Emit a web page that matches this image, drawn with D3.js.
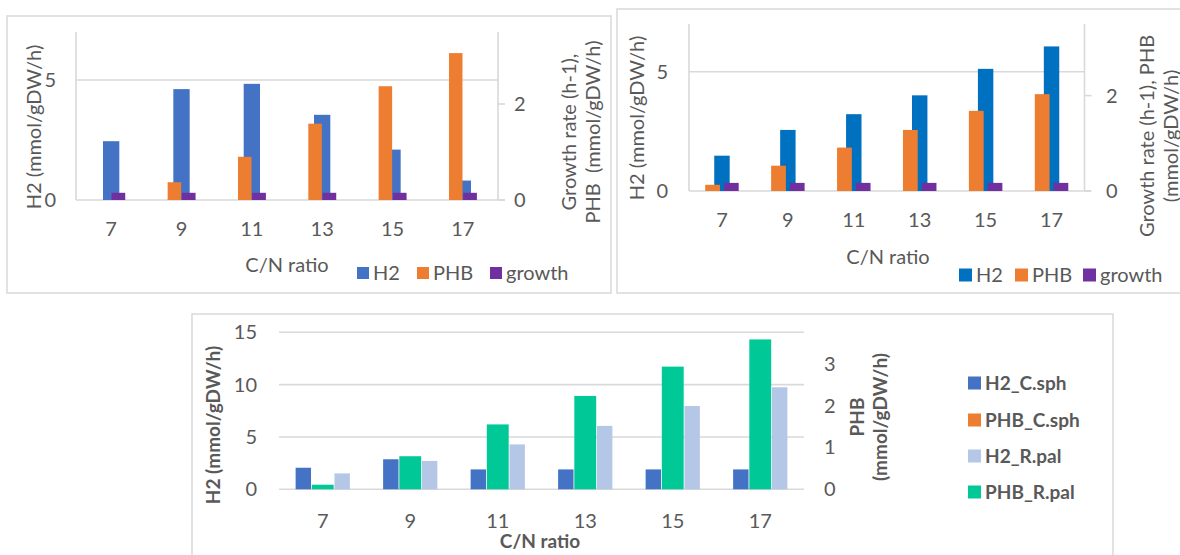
<!DOCTYPE html>
<html><head><meta charset="utf-8">
<script src="https://cdn.jsdelivr.net/npm/d3@7"></script>
<style>
body{margin:0;background:#fff;}
svg{display:block;font-family:Lato,"Open Sans",sans-serif;}
text{white-space:pre;}
</style>
</head><body>
<svg id="c" width="1180" height="555"></svg>
<script>
// ---------- data ----------
const categories = ["7", "9", "11", "13", "15", "17"];

// Panel A (top left)
const a_H2     = [2.45, 4.62, 4.84, 3.55, 2.10, 0.81];
const a_PHB    = [0, 0.37, 0.90, 1.59, 2.37, 3.06];
const a_growth = [0.15, 0.15, 0.15, 0.15, 0.15, 0.15];

// Panel B (top right)
const b_H2     = [1.48, 2.56, 3.22, 4.01, 5.12, 6.06];
const b_PHB    = [0.13, 0.53, 0.91, 1.28, 1.68, 2.03];
const b_growth = [0.17, 0.17, 0.17, 0.17, 0.17, 0.17];

// Panel C (bottom)
const c_H2_Csph  = [2.06, 2.87, 1.90, 1.90, 1.90, 1.90];
const c_PHB_Csph = [0, 0, 0, 0, 0, 0];
const c_H2_Rpal  = [1.52, 2.71, 4.29, 6.06, 7.96, 9.75];
const c_PHB_Rpal = [0.11, 0.79, 1.55, 2.23, 2.93, 3.58];

const ticksLeftTop   = [0, 5];
const ticksRightTop  = [0, 2];
const ticksLeftBot   = [0, 5, 10, 15];
const ticksRightBot  = [0, 1, 2, 3];

const leftTitle  = "H2 (mmol/gDW/h)";
const xTitle     = "C/N ratio";

// ---------- drawing ----------
const svg = d3.select("#c");
const TXT = "#595959", GRID = "#d9d9d9";

function panel(p) {
  const g = svg.append("g");
  const fw = p.bold ? 700 : 400;
  g.append("rect").attr("x", p.border[0]).attr("y", p.border[1])
    .attr("width", p.border[2]).attr("height", p.border[3])
    .attr("fill", "#fff").attr("stroke", GRID).attr("stroke-width", 1.5);

  const x = d3.scaleBand().domain(categories).range([p.x0, p.x1]).padding(0);
  const yL = d3.scaleLinear().domain(p.leftDomain).range([p.yBase, p.yTop]);
  const yR = d3.scaleLinear().domain(p.rightDomain).range([p.yBase, p.yTop]);
  const bw = x.bandwidth();

  // gridlines
  g.selectAll(".grid").data(p.leftTicks).enter().append("line")
    .attr("x1", p.x0).attr("x2", t => t === 0 ? p.baseEnd : p.x1)
    .attr("y1", t => yL(t)).attr("y2", t => yL(t))
    .attr("stroke", GRID).attr("stroke-width", 1.6);

  if (p.axisLines) {
    g.append("line").attr("x1", p.x0).attr("x2", p.x0).attr("y1", p.yTop).attr("y2", p.yBase)
      .attr("stroke", GRID).attr("stroke-width", 1.6);
    g.append("line").attr("x1", p.x1).attr("x2", p.x1).attr("y1", p.yTop).attr("y2", p.yBase)
      .attr("stroke", GRID).attr("stroke-width", 1.6);
    g.selectAll(".rt").data(p.rightTicks).enter().append("line")
      .attr("x1", p.x1).attr("x2", p.x1 + 7)
      .attr("y1", t => yR(t)).attr("y2", t => yR(t))
      .attr("stroke", GRID).attr("stroke-width", 1.6);
  }

  // tick labels
  g.selectAll(".lt").data(p.leftTicks).enter().append("text")
    .attr("x", p.leftLabelEnd).attr("y", t => yL(t)).attr("dy", "0.35em")
    .attr("text-anchor", "end").attr("fill", TXT).attr("font-size", p.fs)
    .text(t => t);
  g.selectAll(".rtl").data(p.rightTicks).enter().append("text")
    .attr("x", p.rightLabelStart).attr("y", t => yR(t)).attr("dy", "0.35em")
    .attr("text-anchor", "start").attr("fill", TXT).attr("font-size", p.fs)
    .text(t => t);
  g.selectAll(".cl").data(categories).enter().append("text")
    .attr("x", c => x(c) + bw / 2).attr("y", p.catY).attr("dy", "0.35em")
    .attr("text-anchor", "middle").attr("fill", TXT).attr("font-size", p.fs)
    .text(c => c);

  // bars
  p.series.forEach(s => {
    const y = s.axis === "L" ? yL : yR;
    g.selectAll(null).data(categories.map((c, i) => ({c, v: s.values[i]}))).enter()
      .append("rect")
      .attr("x", d => x(d.c) + bw / 2 + s.pos[0] * bw)
      .attr("width", (s.pos[1] - s.pos[0]) * bw)
      .attr("y", d => y(d.v))
      .attr("height", d => p.yBase - y(d.v))
      .attr("fill", s.color);
  });

  // titles
  g.append("text").attr("x", p.xTitle[0]).attr("y", p.xTitle[1]).attr("dy", "0.35em")
    .attr("text-anchor", "middle").attr("fill", TXT).attr("font-size", p.tfs)
    .attr("font-weight", fw).text(xTitle);
  g.append("text").attr("transform", `translate(${p.lTitle[0]},${p.lTitle[1]}) rotate(-90)`)
    .attr("dy", "0.35em").attr("text-anchor", "middle").attr("fill", TXT)
    .attr("font-size", p.tfs).attr("font-weight", fw).text(leftTitle);
  p.rTitle.lines.forEach((ln, i) => {
    g.append("text").attr("transform", `translate(${p.rTitle.x[i]},${p.rTitle.y}) rotate(-90)`)
      .attr("dy", "0.35em").attr("text-anchor", "middle").attr("fill", TXT)
      .attr("font-size", p.tfs).attr("font-weight", fw).text(ln);
  });

  // legend
  p.legend.forEach(l => {
    g.append("rect").attr("x", l.x).attr("y", l.y - p.lsz / 2)
      .attr("width", p.lsz).attr("height", p.lsz).attr("fill", l.color);
    g.append("text").attr("x", l.x + p.lsz + 4).attr("y", l.y).attr("dy", "0.35em")
      .attr("fill", TXT).attr("font-size", p.tfs).attr("font-weight", fw).text(l.name);
  });
}

panel({
  border: [7, 16, 604, 277],
  x0: 76, x1: 498, yTop: 32, yBase: 200, baseEnd: 505,
  leftDomain: [0, 7], rightDomain: [0, 3.5],
  leftTicks: ticksLeftTop, rightTicks: ticksRightTop,
  leftLabelEnd: 56, rightLabelStart: 514, axisLines: true,
  fs: 20, tfs: 20, bold: false,
  catY: 229, xTitle: [287, 265], lTitle: [34, 127],
  rTitle: {lines: ["Growth rate (h-1),", "PHB  (mmol/gDW/h)"], x: [569, 593], y: 132},
  series: [
    {values: a_H2, axis: "L", pos: [-0.116, 0.116], color: "#4472C4"},
    {values: a_PHB, axis: "R", pos: [-0.197, -0.005], color: "#ED7D31"},
    {values: a_growth, axis: "R", pos: [0.005, 0.2], color: "#7030A0"}
  ],
  lsz: 12,
  legend: [
    {name: "H2", color: "#4472C4", x: 357, y: 273},
    {name: "PHB", color: "#ED7D31", x: 417, y: 273},
    {name: "growth", color: "#7030A0", x: 490, y: 273}
  ]
});

panel({
  border: [617, 9, 600, 284],
  x0: 689, x1: 1084.5, yTop: 24, yBase: 191, baseEnd: 1091,
  leftDomain: [0, 7], rightDomain: [0, 3.5],
  leftTicks: ticksLeftTop, rightTicks: ticksRightTop,
  leftLabelEnd: 668, rightLabelStart: 1106, axisLines: true,
  fs: 20, tfs: 20, bold: false,
  catY: 220, xTitle: [888, 257], lTitle: [637, 118],
  rTitle: {lines: ["Growth rate (h-1), PHB", "(mmol/gDW/h)"], x: [1147, 1171], y: 136},
  series: [
    {values: b_H2, axis: "L", pos: [-0.117, 0.117], color: "#0070C0"},
    {values: b_PHB, axis: "R", pos: [-0.254, -0.03], color: "#ED7D31"},
    {values: b_growth, axis: "R", pos: [0.03, 0.254], color: "#7030A0"}
  ],
  lsz: 13,
  legend: [
    {name: "H2", color: "#0070C0", x: 959, y: 275},
    {name: "PHB", color: "#ED7D31", x: 1015, y: 275},
    {name: "growth", color: "#7030A0", x: 1083, y: 275}
  ]
});

panel({
  border: [192, 314, 921, 260],
  x0: 279, x1: 804, yTop: 332.3, yBase: 489.3, baseEnd: 804,
  leftDomain: [0, 15], rightDomain: [0, 3.75],
  leftTicks: ticksLeftBot, rightTicks: ticksRightBot,
  leftLabelEnd: 257, rightLabelStart: 824, axisLines: false,
  fs: 20, tfs: 19, bold: true,
  catY: 521, xTitle: [540, 541], lTitle: [213, 425],
  rTitle: {lines: ["PHB", "(mmol/gDW/h)"], x: [857, 880], y: 417},
  series: [
    {values: c_H2_Csph, axis: "L", pos: [-0.31, -0.134], color: "#4472C4"},
    {values: c_H2_Rpal, axis: "L", pos: [0.134, 0.31], color: "#B4C7E7"},
    {values: c_PHB_Csph, axis: "R", pos: [-0.125, 0.125], color: "#ED7D31"},
    {values: c_PHB_Rpal, axis: "R", pos: [-0.125, 0.125], color: "#00C997"}
  ],
  lsz: 13,
  legend: [
    {name: "H2_C.sph", color: "#4472C4", x: 968, y: 383},
    {name: "PHB_C.sph", color: "#ED7D31", x: 968, y: 420},
    {name: "H2_R.pal", color: "#B4C7E7", x: 968, y: 456},
    {name: "PHB_R.pal", color: "#00C997", x: 968, y: 492}
  ]
});
</script>
</body></html>
